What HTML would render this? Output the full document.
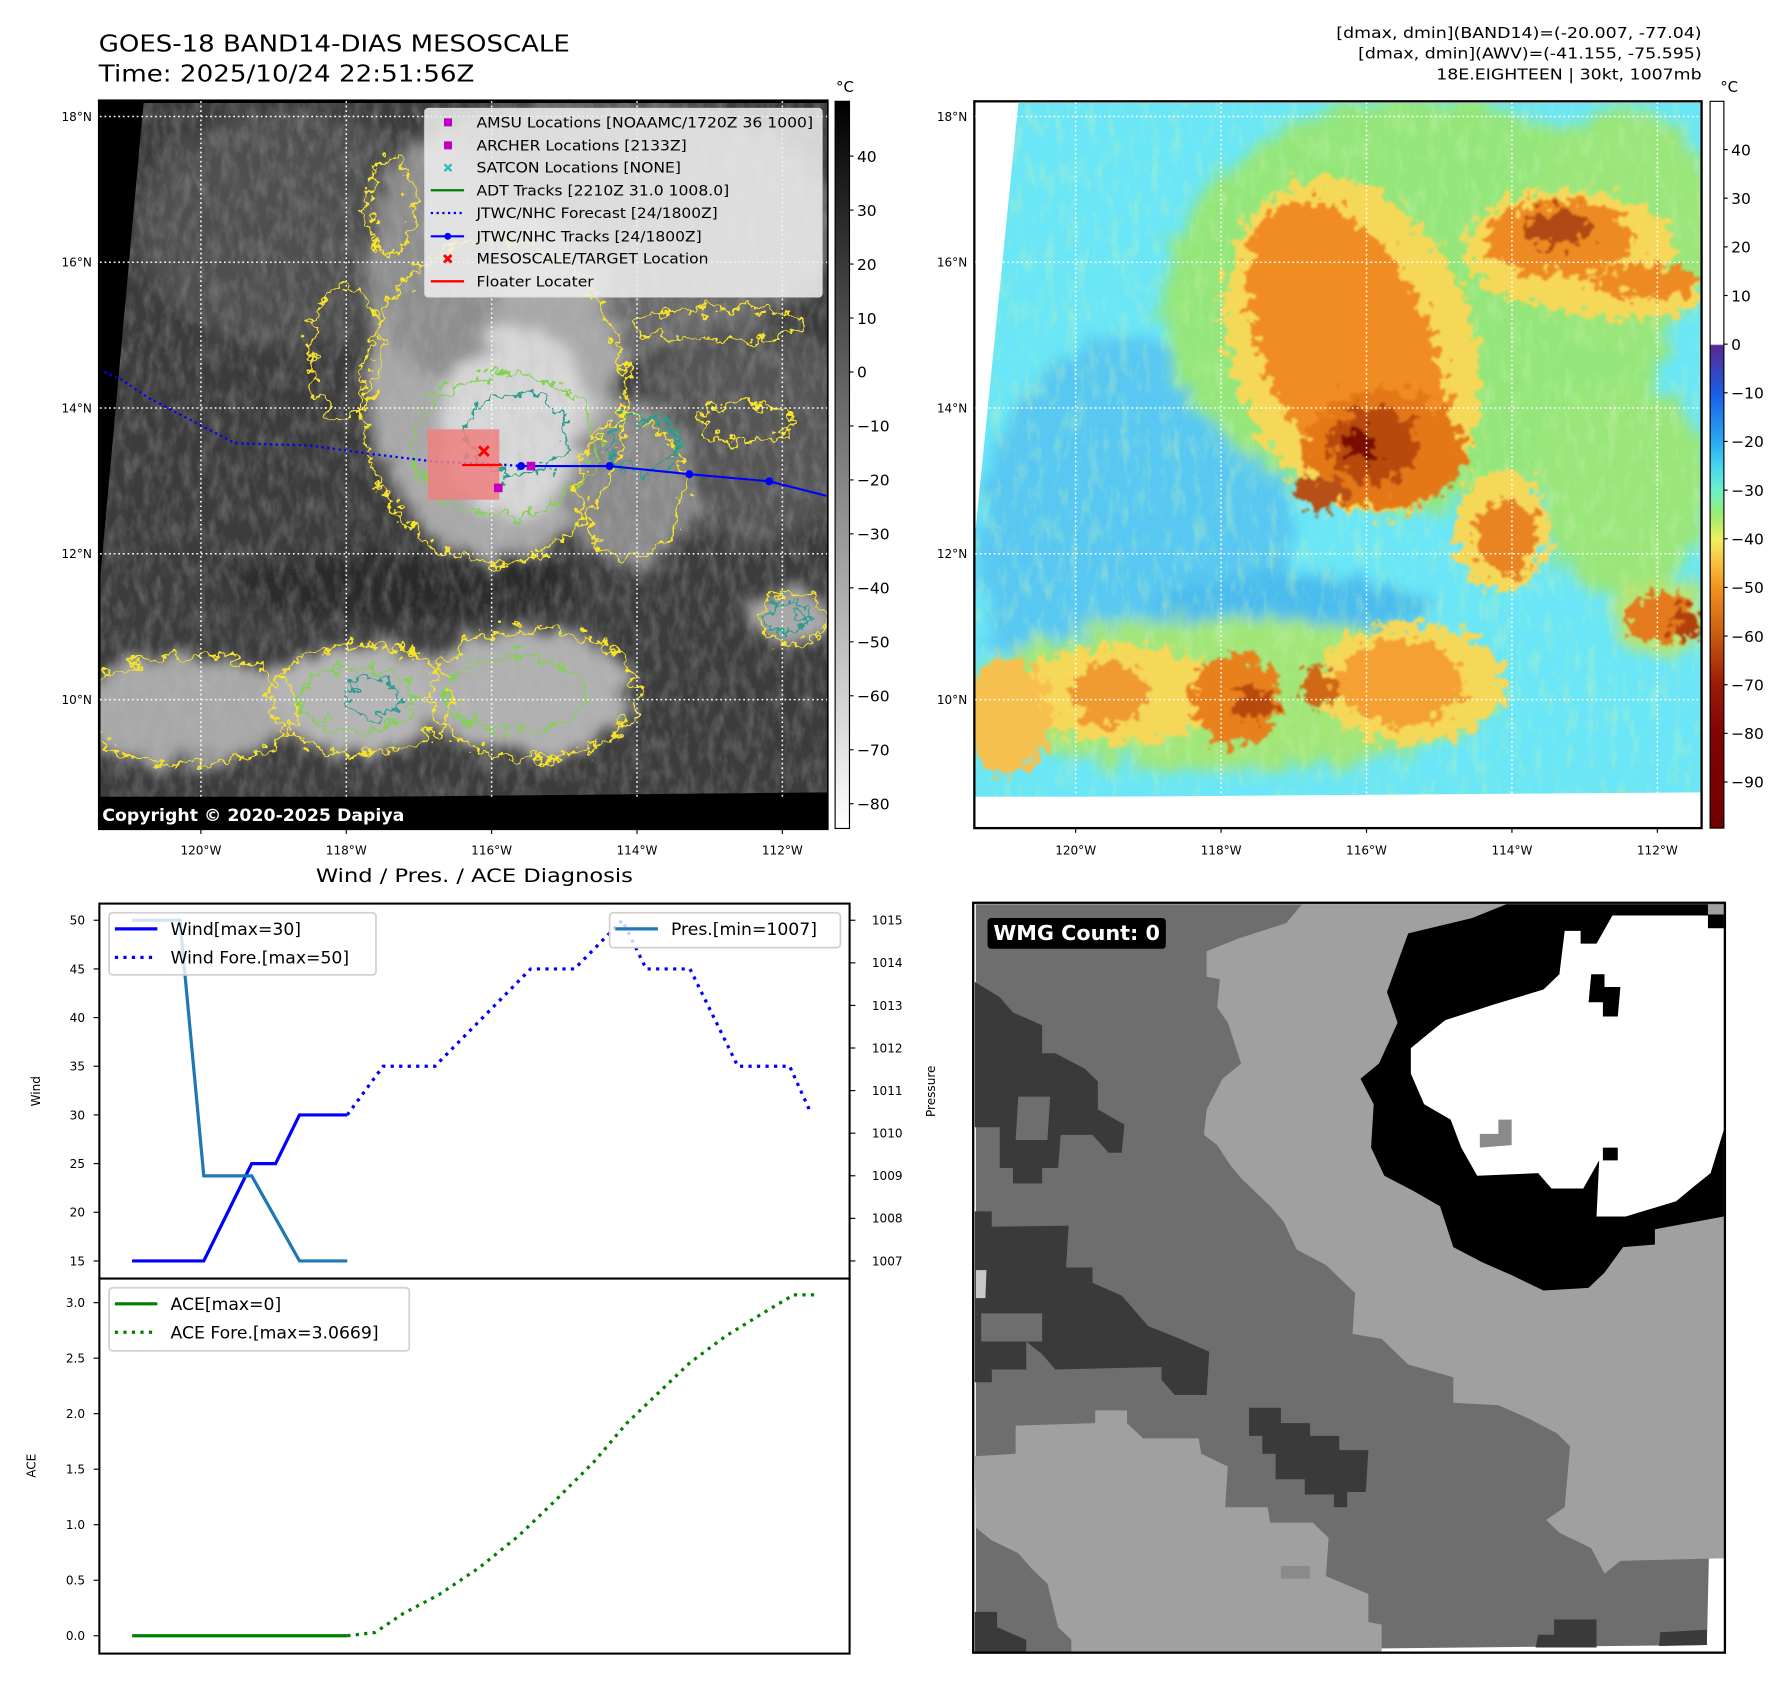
<!DOCTYPE html>
<html><head><meta charset="utf-8"><style>
html,body{margin:0;padding:0;background:#fff}
svg{display:block;font-family:"DejaVu Sans","Liberation Sans",sans-serif}
</style></head><body>
<svg id="root" width="1792" height="1690" viewBox="0 0 1560 1471.2" xmlns="http://www.w3.org/2000/svg">
<defs>
<filter id="wig" x="-20%" y="-20%" width="140%" height="140%"><feTurbulence type="fractalNoise" baseFrequency="0.045" numOctaves="3" seed="4"/><feDisplacementMap in="SourceGraphic" scale="55" xChannelSelector="R" yChannelSelector="G"/></filter>
<filter id="soft" x="-30%" y="-30%" width="160%" height="160%"><feTurbulence type="fractalNoise" baseFrequency="0.03" numOctaves="4" seed="7"/><feDisplacementMap in="SourceGraphic" scale="80" xChannelSelector="R" yChannelSelector="G" result="d"/><feGaussianBlur in="d" stdDeviation="12"/></filter>
<filter id="tex" x="-30%" y="-30%" width="160%" height="160%"><feTurbulence type="fractalNoise" baseFrequency="0.05" numOctaves="4" seed="11"/><feDisplacementMap in="SourceGraphic" scale="70" xChannelSelector="R" yChannelSelector="G" result="d"/><feGaussianBlur in="d" stdDeviation="2"/></filter>
<filter id="noiseG" x="0" y="0" width="100%" height="100%"><feTurbulence type="fractalNoise" baseFrequency="0.06 0.025" numOctaves="4" seed="21"/><feColorMatrix type="matrix" values="0 0 0 0 0.5  0 0 0 0 0.5  0 0 0 0 0.5  1.2 0 0 0 -0.45"/></filter>
<filter id="noiseC" x="0" y="0" width="100%" height="100%"><feTurbulence type="fractalNoise" baseFrequency="0.05 0.02" numOctaves="4" seed="33"/><feColorMatrix type="matrix" values="0 0 0 0 0.6  0 0 0 0 0.92  0 0 0 0 0.45  1.6 0 0 0 -0.75"/></filter>
<linearGradient id="cb1" x1="0" y1="0" x2="0" y2="1"><stop offset="0" stop-color="#000"/><stop offset="1" stop-color="#fff"/></linearGradient>
<linearGradient id="cb2" x1="0" y1="0" x2="0" y2="1">
<stop offset="0" stop-color="#fff"/><stop offset="0.334" stop-color="#fff"/><stop offset="0.336" stop-color="#5a2790"/>
<stop offset="0.402" stop-color="#1a5ee6"/><stop offset="0.469" stop-color="#2aaaf2"/><stop offset="0.503" stop-color="#48d6f0"/>
<stop offset="0.536" stop-color="#6ef0c8"/><stop offset="0.569" stop-color="#9aee70"/><stop offset="0.603" stop-color="#f2ee60"/>
<stop offset="0.636" stop-color="#f8c040"/><stop offset="0.669" stop-color="#f29220"/><stop offset="0.736" stop-color="#c85a10"/>
<stop offset="0.803" stop-color="#9a1a08"/><stop offset="0.87" stop-color="#820404"/><stop offset="1" stop-color="#700000"/></linearGradient>
<clipPath id="imgL"><polygon points="250,190 1442,190 1442,1462 175,1475 175,1060"/></clipPath>
<clipPath id="imgR"><polygon points="110,190 1398,190 1398,1462 27,1472 27,1000"/></clipPath>
</defs>

<text x="86" y="44.8" font-size="20.5" textLength="410" lengthAdjust="spacingAndGlyphs">GOES-18 BAND14-DIAS MESOSCALE</text>
<text x="86" y="70.8" font-size="20.5" textLength="327" lengthAdjust="spacingAndGlyphs">Time: 2025/10/24 22:51:56Z</text>
<g font-size="13" text-anchor="end">
<text x="1481.3" y="33" textLength="318" lengthAdjust="spacingAndGlyphs">[dmax, dmin](BAND14)=(-20.007, -77.04)</text>
<text x="1481.3" y="51" textLength="299" lengthAdjust="spacingAndGlyphs">[dmax, dmin](AWV)=(-41.155, -75.595)</text>
<text x="1481.3" y="69.4" textLength="231" lengthAdjust="spacingAndGlyphs">18E.EIGHTEEN | 30kt, 1007mb</text>
</g>

<!-- LEFT MAP -->
<g>
<svg x="86" y="87.3" width="634.6" height="634.6" viewBox="172 185 1270 1345" preserveAspectRatio="none">
<rect x="172" y="185" width="1270" height="1345" fill="#000"/>
<polygon points="250,190 1442,190 1442,1462 175,1475 175,1060" fill="#3c3c3c"/>
<g clip-path="url(#imgL)">
 <g filter="url(#soft)">
  <ellipse cx="1050" cy="420" rx="420" ry="240" fill="#6a6a6a"/>
  <ellipse cx="500" cy="420" rx="260" ry="220" fill="#505050"/>
  <ellipse cx="1300" cy="800" rx="200" ry="200" fill="#555"/>
  <ellipse cx="860" cy="700" rx="220" ry="330" fill="#a8a8a8"/>
  <ellipse cx="900" cy="780" rx="130" ry="180" fill="#d8d8d8"/>
  <ellipse cx="760" cy="480" rx="110" ry="220" fill="#8e8e8e"/>
  <ellipse cx="1100" cy="900" rx="110" ry="150" fill="#8a8a8a"/>
  <ellipse cx="320" cy="1310" rx="190" ry="100" fill="#a8a8a8"/>
  <ellipse cx="620" cy="1290" rx="150" ry="100" fill="#b4b4b4"/>
  <ellipse cx="920" cy="1280" rx="180" ry="120" fill="#b0b0b0"/>
  <ellipse cx="1380" cy="1140" rx="70" ry="50" fill="#a8a8a8"/>
  <ellipse cx="700" cy="1080" rx="300" ry="60" fill="#2c2c2c"/>
 </g>
 <rect x="172" y="185" width="1270" height="1345" filter="url(#noiseG)" opacity="0.5"/>
 <g filter="url(#wig)" fill="none" stroke-width="4.5">
  <ellipse cx="860" cy="740" rx="230" ry="300" stroke="#f5e22a"/>
  <ellipse cx="880" cy="820" rx="160" ry="130" stroke="#7fd34f"/>
  <ellipse cx="900" cy="800" rx="90" ry="75" stroke="#2a9d8f"/>
  <ellipse cx="1100" cy="900" rx="90" ry="130" stroke="#f5e22a"/>
  <ellipse cx="1120" cy="820" rx="60" ry="50" stroke="#2a9d8f"/>
  <ellipse cx="330" cy="1310" rx="190" ry="100" stroke="#f5e22a"/>
  <ellipse cx="630" cy="1290" rx="160" ry="100" stroke="#f5e22a"/>
  <ellipse cx="930" cy="1280" rx="180" ry="120" stroke="#f5e22a"/>
  <ellipse cx="620" cy="1290" rx="100" ry="60" stroke="#7fd34f"/>
  <ellipse cx="900" cy="1280" rx="120" ry="70" stroke="#7fd34f"/>
  <ellipse cx="650" cy="1290" rx="45" ry="35" stroke="#2a9d8f"/>
  <ellipse cx="1380" cy="1140" rx="60" ry="45" stroke="#f5e22a"/>
  <ellipse cx="1370" cy="1140" rx="35" ry="28" stroke="#2a9d8f"/>
  <ellipse cx="1250" cy="600" rx="150" ry="30" stroke="#f5e22a"/>
  <ellipse cx="1300" cy="780" rx="80" ry="35" stroke="#f5e22a"/>
  <ellipse cx="680" cy="380" rx="40" ry="90" stroke="#f5e22a"/>
  <ellipse cx="600" cy="650" rx="60" ry="120" stroke="#f5e22a"/>
 </g>
</g>
<rect x="172" y="1470" width="1270" height="60" fill="#000"/>
</svg>
<rect x="86" y="87.3" width="634.6" height="634.6" fill="none" stroke="#000" stroke-width="1.5"/>
</g>
<g id="gridL" stroke="#fff" stroke-width="1.3" stroke-dasharray="1.5,2.5"></g>

<polyline points="91,323.7 105,330 130,346.8 175,370.4 204.9,385.9 269.8,387.8 324.8,395.4 379.8,402 434.7,404.3 453.7,405.7" fill="none" stroke="#0000ff" stroke-width="2" stroke-dasharray="2,3"/>
<rect x="372.3" y="373.7" width="62.4" height="61.3" fill="#f08080" fill-opacity="0.85"/>
<line x1="402.3" y1="404.8" x2="437.2" y2="404.8" stroke="#ff0000" stroke-width="2"/>
<polyline points="453.7,405.7 530.7,405.7 600.1,412.8 669.6,419 719.6,431.7" fill="none" stroke="#0000ff" stroke-width="1.8"/>
<g fill="#0000ff"><circle cx="453.7" cy="405.7" r="3.5"/><circle cx="530.7" cy="405.7" r="3.5"/><circle cx="600.1" cy="412.8" r="3.5"/><circle cx="669.6" cy="419" r="3.5"/></g>
<g stroke="#ff0000" stroke-width="2.5"><line x1="417" y1="388.5" x2="425.5" y2="397"/><line x1="425.5" y1="388.5" x2="417" y2="397"/></g>
<rect x="458.5" y="402" width="7.5" height="7.5" fill="#c000c0"/>
<rect x="430" y="421" width="7.5" height="7.5" fill="#c000c0"/>

<g>
<rect x="369.8" y="94.4" width="345.8" height="164.1" rx="3" fill="#f0f0f0" fill-opacity="0.85" stroke="#ddd"/>
<rect x="386.5" y="103" width="7" height="7" fill="#c000c0"/>
<rect x="386.5" y="123" width="7" height="7" fill="#c000c0"/>
<g stroke="#20c0c0" stroke-width="2"><line x1="387" y1="143" x2="393" y2="149"/><line x1="393" y1="143" x2="387" y2="149"/></g>
<line x1="375" y1="165.6" x2="404" y2="165.6" stroke="#007a00" stroke-width="2"/>
<line x1="375" y1="185.4" x2="404" y2="185.4" stroke="#0000ff" stroke-width="2" stroke-dasharray="2,3"/>
<line x1="375" y1="205.7" x2="404" y2="205.7" stroke="#0000ff" stroke-width="1.8"/><circle cx="389.8" cy="205.7" r="3" fill="#0000ff"/>
<g stroke="#ff0000" stroke-width="2.5"><line x1="386.5" y1="222" x2="393" y2="228.5"/><line x1="393" y1="222" x2="386.5" y2="228.5"/></g>
<line x1="375" y1="244.9" x2="404" y2="244.9" stroke="#ff0000" stroke-width="2"/>
<g font-size="12.5">
<text x="414.8" y="111" textLength="293" lengthAdjust="spacingAndGlyphs">AMSU Locations [NOAAMC/1720Z 36 1000]</text>
<text x="414.8" y="130.8" textLength="183" lengthAdjust="spacingAndGlyphs">ARCHER Locations [2133Z]</text>
<text x="414.8" y="150.2" textLength="178" lengthAdjust="spacingAndGlyphs">SATCON Locations [NONE]</text>
<text x="414.8" y="170" textLength="220" lengthAdjust="spacingAndGlyphs">ADT Tracks [2210Z 31.0 1008.0]</text>
<text x="414.8" y="189.8" textLength="210" lengthAdjust="spacingAndGlyphs">JTWC/NHC Forecast [24/1800Z]</text>
<text x="414.8" y="210.1" textLength="196" lengthAdjust="spacingAndGlyphs">JTWC/NHC Tracks [24/1800Z]</text>
<text x="414.8" y="229.4" textLength="202" lengthAdjust="spacingAndGlyphs">MESOSCALE/TARGET Location</text>
<text x="414.8" y="249.3" textLength="102" lengthAdjust="spacingAndGlyphs">Floater Locater</text>
</g></g>
<text x="89" y="714.8" font-size="14.5" font-weight="bold" fill="#fff" textLength="263" lengthAdjust="spacingAndGlyphs">Copyright © 2020-2025 Dapiya</text>

<rect x="727" y="88.2" width="12.5" height="633" fill="url(#cb1)" stroke="#000" stroke-width="1"/>
<text x="735.6" y="80" font-size="13" text-anchor="middle">°C</text>
<g id="cbL" font-size="13.5"></g>

<!-- RIGHT MAP -->
<g>
<svg x="848.2" y="88.2" width="633.1" height="632.7" viewBox="27 187 1371 1341" preserveAspectRatio="none">
<rect x="27" y="187" width="1371" height="1341" fill="#fff"/>
<polygon points="110,190 1398,190 1398,1462 27,1472 27,1000" fill="#6ae6f6"/>
<g clip-path="url(#imgR)">
 <g filter="url(#soft)">
  <ellipse cx="330" cy="1000" rx="300" ry="380" fill="#58c8f2"/>
  <ellipse cx="620" cy="1120" rx="260" ry="60" fill="#4cbcee"/>
  <ellipse cx="860" cy="560" rx="480" ry="380" fill="#94e67a"/>
  <ellipse cx="1250" cy="420" rx="180" ry="220" fill="#9ae67a"/>
  <ellipse cx="1250" cy="900" rx="160" ry="200" fill="#9ae67a"/>
  <ellipse cx="520" cy="1280" rx="500" ry="140" fill="#a2e678"/>
  <ellipse cx="1320" cy="1140" rx="90" ry="70" fill="#b8e470"/>
 </g>
 <rect x="27" y="187" width="1371" height="1341" filter="url(#noiseC)" opacity="0.55"/>
 <g filter="url(#tex)">
  <ellipse cx="740" cy="640" rx="230" ry="320" fill="#f6d858" transform="rotate(-20 740 640)"/>
  <ellipse cx="1150" cy="460" rx="200" ry="110" fill="#f6d858"/>
  <ellipse cx="1250" cy="540" rx="150" ry="50" fill="#f6d858"/>
  <ellipse cx="1020" cy="980" rx="90" ry="110" fill="#f6d858"/>
  <ellipse cx="300" cy="1280" rx="200" ry="90" fill="#f6d858"/>
  <ellipse cx="850" cy="1260" rx="180" ry="110" fill="#f6d858"/>
  <ellipse cx="90" cy="1320" rx="80" ry="110" fill="#f6c050"/>
  <ellipse cx="730" cy="640" rx="160" ry="290" fill="#f08c22" transform="rotate(-25 730 640)"/>
  <ellipse cx="800" cy="830" rx="150" ry="110" fill="#e47818"/>
  <ellipse cx="1130" cy="440" rx="140" ry="70" fill="#ee8a22"/>
  <ellipse cx="1290" cy="520" rx="100" ry="30" fill="#ee8a22"/>
  <ellipse cx="1030" cy="990" rx="60" ry="70" fill="#e88424"/>
  <ellipse cx="520" cy="1290" rx="85" ry="85" fill="#e8801e"/>
  <ellipse cx="680" cy="1270" rx="40" ry="35" fill="#d06818"/>
  <ellipse cx="830" cy="1260" rx="120" ry="80" fill="#f4a030"/>
  <ellipse cx="1320" cy="1140" rx="65" ry="45" fill="#e47a1c"/>
  <ellipse cx="280" cy="1280" rx="70" ry="60" fill="#f09a30"/>
  <ellipse cx="780" cy="820" rx="85" ry="70" fill="#b84810"/>
  <ellipse cx="1130" cy="420" rx="60" ry="35" fill="#b04812"/>
  <ellipse cx="680" cy="910" rx="45" ry="30" fill="#b85012"/>
  <ellipse cx="555" cy="1300" rx="40" ry="28" fill="#b84a10"/>
  <ellipse cx="1370" cy="1150" rx="28" ry="28" fill="#b04010"/>
  <ellipse cx="755" cy="820" rx="32" ry="26" fill="#7a0806"/>
 </g>
</g>
<rect x="27" y="1470" width="1371" height="60" fill="#fff"/>
</svg>
<rect x="848.2" y="88.2" width="633.1" height="632.7" fill="none" stroke="#000" stroke-width="2"/>
</g>
<g id="gridR" stroke="#fff" stroke-width="1.3" stroke-dasharray="1.5,2.5"></g>
<rect x="1488.7" y="88.2" width="12" height="632.7" fill="url(#cb2)" stroke="#000" stroke-width="1"/>
<text x="1505.3" y="80" font-size="13" text-anchor="middle">°C</text>
<g id="cbR" font-size="13.5"></g>
<g id="geoLabels" font-size="10.5"></g>

<text x="413" y="768" font-size="16" text-anchor="middle" textLength="276" lengthAdjust="spacingAndGlyphs">Wind / Pres. / ACE Diagnosis</text>
<g id="chart"></g>

<g>
<svg x="847.2" y="785.9" width="654.4" height="652.8" viewBox="25 25 1417 1470" preserveAspectRatio="none">
<rect x="25" y="25" width="1417" height="1470" fill="#fff"/>
<polygon points="30,28 1440,28 1408,1480 30,1495" fill="#6e6e6e"/>
<polygon fill="#a0a0a0" points="645,28 1030,28 1440,28 1440,1310 1245,1315 1215,1340 1190,1290 1130,1260 1105,1235 1140,1210 1150,1090 1125,1065 1070,1035 1015,1010 930,1005 930,955 845,930 820,905 795,880 740,870 745,790 715,760 690,735 635,705 610,650 585,620 560,595 530,565 510,540 485,500 460,480 465,430 495,370 530,340 505,260 485,230 490,175 465,170 465,120 525,95 615,65"/>
<polygon fill="#000" points="845,85 965,55 1030,28 1440,28 1440,640 1310,665 1310,695 1250,700 1215,750 1185,780 1100,785 1040,755 985,730 930,700 905,620 855,590 800,560 775,505 780,420 755,370 790,340 825,260 805,200"/>
<polygon fill="#fff" points="1140,80 1170,80 1170,105 1200,105 1230,50 1410,50 1410,75 1440,75 1440,160 1440,470 1415,555 1385,580 1350,610 1255,640 1200,640 1205,530 1175,585 1115,585 1090,555 975,560 945,505 925,450 875,420 850,360 850,310 885,280 915,255 1005,225 1100,195 1130,165"/>
<polygon fill="#000" points="1190,165 1215,165 1215,190 1245,190 1240,248 1212,248 1212,220 1185,220"/>
<polygon fill="#000" points="1212,505 1240,505 1240,530 1212,530"/>
<polygon fill="#8a8a8a" points="1015,450 1040,450 1040,500 980,505 980,478 1015,478"/>
<polygon fill="#a0a0a0" points="1410,28 1440,28 1440,48 1410,48"/>
<polygon fill="#3a3a3a" points="28,180 75,210 100,240 155,265 155,320 180,320 235,350 260,375 260,430 310,460 305,515 280,515 250,480 190,480 185,545 155,545 155,575 100,575 100,545 75,545 75,465 28,465"/>
<polygon fill="#6e6e6e" points="110,405 170,405 165,490 105,490"/>
<polygon fill="#3a3a3a" points="28,630 60,630 60,660 205,658 200,740 250,740 250,770 305,795 330,825 355,855 415,880 470,905 465,990 405,990 380,960 380,935 180,940 155,910 125,885 125,940 60,940 60,965 28,965"/>
<polygon fill="#6e6e6e" points="40,830 155,830 155,885 125,885 40,885"/>
<polygon fill="#c8c8c8" points="30,745 50,745 48,800 30,800"/>
<polygon fill="#3a3a3a" points="545,1015 605,1015 605,1045 660,1045 660,1070 715,1070 715,1098 770,1098 765,1180 730,1180 730,1210 705,1210 705,1185 650,1185 650,1155 595,1155 595,1105 570,1105 570,1070 545,1070"/>
<polygon fill="#a0a0a0" points="28,1110 105,1105 105,1050 255,1045 255,1020 315,1020 315,1045 345,1075 450,1075 455,1105 505,1130 500,1210 580,1210 585,1240 665,1240 695,1270 690,1345 770,1380 770,1435 795,1440 795,1495 210,1495 210,1470 185,1445 165,1360 135,1330 110,1300 60,1275 30,1250"/>
<polygon fill="#8a8a8a" points="605,1325 660,1325 660,1350 605,1350"/>
<polygon fill="#3a3a3a" points="28,1415 70,1415 70,1445 125,1470 125,1495 28,1495"/>
<polygon fill="#3a3a3a" points="1120,1430 1200,1430 1200,1485 1085,1485 1090,1460 1120,1460"/>
<polygon fill="#3a3a3a" points="1320,1455 1408,1450 1408,1480 1318,1482"/>
</svg>
<rect x="847.2" y="785.9" width="654.4" height="652.8" fill="none" stroke="#000" stroke-width="2"/>
<rect x="859.7" y="799.2" width="155.2" height="26.7" rx="3" fill="#000"/>
<text x="864.8" y="818.5" font-size="18" font-weight="bold" fill="#fff" textLength="145" lengthAdjust="spacingAndGlyphs">WMG Count: 0</text>
</g>

<script>
const obsHours = [0, 6, 12, 18, 24, 30, 36, 42, 48, 54];
const windObs = [15, 15, 15, 15, 20, 25, 25, 30, 30, 30];
const presObs = [1015, 1015, 1015, 1009, 1009, 1009, 1008, 1007, 1007, 1007];
const aceObs = [0, 0, 0, 0, 0, 0, 0, 0, 0, 0];
const foreWindHours = [54, 63, 76, 100, 111, 123, 129, 140, 152, 165, 170];
const windFore = [30, 35, 35, 45, 45, 50, 45, 45, 35, 35, 30.5];
const foreAceHours = [54, 61, 68, 77, 87, 97, 106, 116, 124, 133, 140, 149, 159, 166, 172];
const aceFore = [0, 0.03, 0.2, 0.37, 0.61, 0.9, 1.21, 1.57, 1.91, 2.22, 2.46, 2.7, 2.92, 3.07, 3.07];
const windTicks = [15, 20, 25, 30, 35, 40, 45, 50];
const presTicks = [1007, 1008, 1009, 1010, 1011, 1012, 1013, 1014, 1015];
const aceTicks = [0, 0.5, 1, 1.5, 2, 2.5, 3];
const irTicks = [40, 30, 20, 10, 0, -10, -20, -30, -40, -50, -60, -70, -80];
const awvTicks = [40, 30, 20, 10, 0, -10, -20, -30, -40, -50, -60, -70, -80, -90];
const lonTicks = [120, 118, 116, 114, 112];
const latTicks = [18, 16, 14, 12, 10];

const NS = 'http://www.w3.org/2000/svg';
function mk(tag, attrs, parent, txt) {
  const e = document.createElementNS(NS, tag);
  for (const k in attrs) e.setAttribute(k, attrs[k]);
  if (txt !== undefined) e.textContent = txt;
  parent.appendChild(e);
  return e;
}
const xH = h => 115 + h * 3.469;
const yWind = v => 801.1 + (50 - v) * (296.6 / 35);
const yPres = p => 801.1 + (1015 - p) * (296.6 / 8);
const yAce = a => 1424 - a * (290 / 3);
const fmt = v => (v < 0 ? '\u2212' + Math.abs(v) : '' + v);

const chart = document.getElementById('chart');
let e;
e = mk('rect', {x: 86.5, y: 786.6, width: 653.1, height: 326.4, fill: 'none', stroke: '#000', 'stroke-width': 1.8}, chart);


e = mk('rect', {x: 86.5, y: 1113, width: 653.1, height: 326.5, fill: 'none', stroke: '#000', 'stroke-width': 1.8}, chart);



windTicks.forEach(v => {
  const y = yWind(v);
  mk('line', {x1: 81.5, x2: 86.5, y1: y, y2: y, stroke: '#000'}, chart);
  e = mk('text', {x: 74, y: y + 3.8, 'font-size': 10.5, 'text-anchor': 'end'}, chart, v);
  
  
});
presTicks.forEach(v => {
  const y = yPres(v);
  mk('line', {x1: 739.6, x2: 744.6, y1: y, y2: y, stroke: '#000'}, chart);
  e = mk('text', {x: 759, y: y + 3.8, 'font-size': 10.5}, chart, v);
  
  
});
aceTicks.forEach(v => {
  const y = yAce(v);
  mk('line', {x1: 81.5, x2: 86.5, y1: y, y2: y, stroke: '#000'}, chart);
  e = mk('text', {x: 74, y: y + 3.8, 'font-size': 10.5, 'text-anchor': 'end'}, chart, v.toFixed(1));
  
  
});
e = mk('text', {x: 0, y: 0, 'font-size': 10.5, 'text-anchor': 'middle', transform: 'translate(35,950) rotate(-90)'}, chart, 'Wind');


e = mk('text', {x: 0, y: 0, 'font-size': 10.5, 'text-anchor': 'middle', transform: 'translate(814,950) rotate(-90)'}, chart, 'Pressure');


e = mk('text', {x: 0, y: 0, 'font-size': 10.5, 'text-anchor': 'middle', transform: 'translate(31,1276) rotate(-90)'}, chart, 'ACE');



function pts(hs, vs, yf) { return hs.map((h, i) => xH(h).toFixed(1) + ',' + yf(vs[i]).toFixed(1)).join(' '); }
e = mk('polyline', {points: pts(obsHours, windObs, yWind), fill: 'none', stroke: '#0000ff', 'stroke-width': 2.8}, chart);


e = mk('polyline', {points: pts(foreWindHours, windFore, yWind), fill: 'none', stroke: '#0000ff', 'stroke-width': 2.8, 'stroke-dasharray': '2.8,4.6'}, chart);


e = mk('polyline', {points: pts(obsHours, presObs, yPres), fill: 'none', stroke: '#1f77b4', 'stroke-width': 2.8}, chart);


e = mk('polyline', {points: pts(obsHours, aceObs, yAce), fill: 'none', stroke: '#008000', 'stroke-width': 2.8}, chart);


e = mk('polyline', {points: pts(foreAceHours, aceFore, yAce), fill: 'none', stroke: '#008000', 'stroke-width': 2.8, 'stroke-dasharray': '2.8,4.6'}, chart);



function legend(name, x, y, w, h, items) {
  const g = mk('g', {}, chart);
  
  
  mk('rect', {x: x, y: y, width: w, height: h, rx: 3, fill: '#fff', 'fill-opacity': 0.8, stroke: '#d0d0d0', 'stroke-width': 1.5}, g);
  items.forEach((it, i) => {
    const ly = y + 14 + i * 24.8;
    const a = {x1: x + 5, x2: x + 42, y1: ly, y2: ly, stroke: it[1], 'stroke-width': 2.8};
    if (it[2]) a['stroke-dasharray'] = '2.8,4.6';
    mk('line', a, g);
    mk('text', {x: x + 53.4, y: ly + 5.2, 'font-size': 15}, g, it[0]);
  });
}
legend('wind-legend', 95, 794.6, 232.3, 54.1, [['Wind[max=30]', '#0000ff', false], ['Wind Fore.[max=50]', '#0000ff', true]]);
legend('pressure-legend', 530.7, 794.6, 200.9, 30.3, [['Pres.[min=1007]', '#1f77b4', false]]);
legend('ace-legend', 95, 1121, 261.3, 55, [['ACE[max=0]', '#008000', false], ['ACE Fore.[max=3.0669]', '#008000', true]]);

const lonX = lon => 174.9 + (120 - lon) * 63.27;
const latY = lat => 101.4 + (18 - lat) * 63.45;
const lonXR = lon => 936.4 + (120 - lon) * 63.3;
const gL = document.getElementById('gridL'), gR = document.getElementById('gridR'), gl = document.getElementById('geoLabels');
lonTicks.forEach(l => {
  mk('line', {x1: lonX(l), x2: lonX(l), y1: 88, y2: 694}, gL);
  mk('line', {x1: lonXR(l), x2: lonXR(l), y1: 89, y2: 692}, gR);
  mk('line', {x1: lonX(l), x2: lonX(l), y1: 722, y2: 726, stroke: '#000'}, gl);
  mk('line', {x1: lonXR(l), x2: lonXR(l), y1: 721, y2: 725, stroke: '#000'}, gl);
  mk('text', {x: lonX(l), y: 744, 'text-anchor': 'middle'}, gl, l + '°W');
  mk('text', {x: lonXR(l), y: 744, 'text-anchor': 'middle'}, gl, l + '°W');
});
latTicks.forEach(l => {
  mk('line', {x1: 87, x2: 720, y1: latY(l), y2: latY(l)}, gL);
  mk('line', {x1: 849, x2: 1480, y1: latY(l), y2: latY(l)}, gR);
  mk('text', {x: 80, y: latY(l) + 3.8, 'text-anchor': 'end'}, gl, l + '°N');
  mk('text', {x: 842, y: latY(l) + 3.8, 'text-anchor': 'end'}, gl, l + '°N');
});
const cbLY = t => 135.9 + (40 - t) * 4.698;
const cbRY = t => 299.6 - t * 4.235;
const cL = document.getElementById('cbL'), cR = document.getElementById('cbR');
irTicks.forEach(t => {
  mk('line', {x1: 739.5, x2: 743, y1: cbLY(t), y2: cbLY(t), stroke: '#000'}, cL);
  mk('text', {x: 746, y: cbLY(t) + 5}, cL, fmt(t));
});
awvTicks.forEach(t => {
  mk('line', {x1: 1500.7, x2: 1504, y1: cbRY(t), y2: cbRY(t), stroke: '#000'}, cR);
  mk('text', {x: 1507, y: cbRY(t) + 5}, cR, fmt(t));
});
</script>
</svg>
</body></html>
